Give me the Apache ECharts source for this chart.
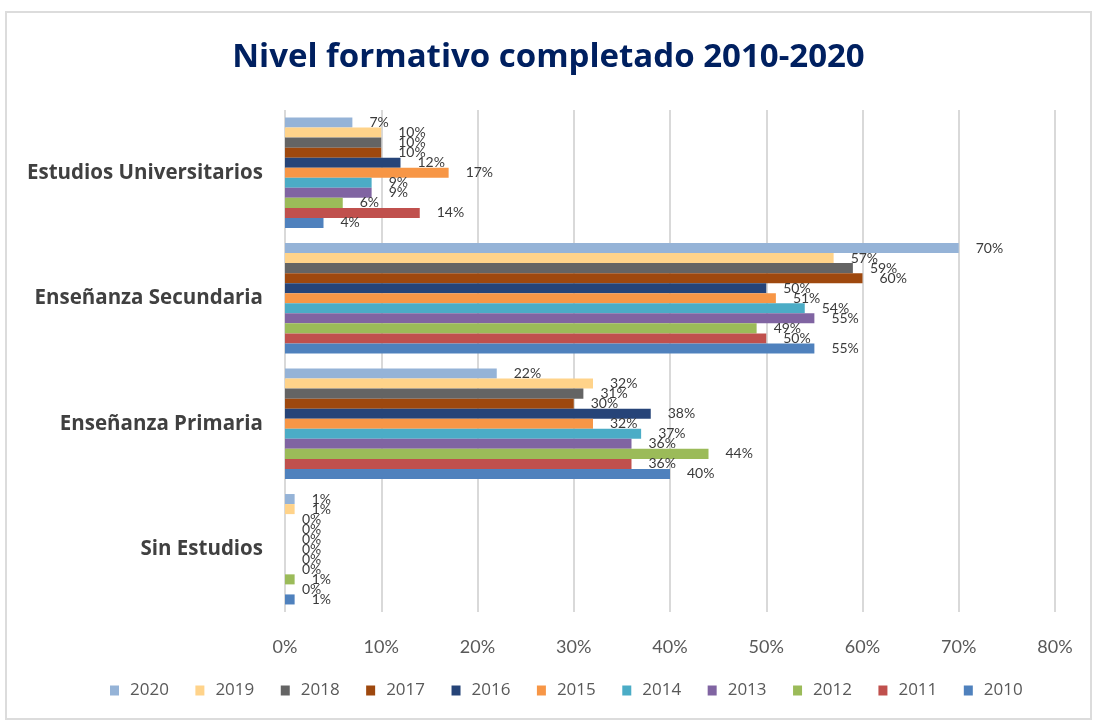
<!DOCTYPE html>
<html>
<head>
<meta charset="utf-8">
<script src="https://cdn.jsdelivr.net/npm/echarts@6/dist/echarts.min.js"></script>
<style>html,body{margin:0;padding:0;background:#fff}#c{width:1097px;height:725px}</style>
</head>
<body>
<div id="c"></div>
<script>
const categories = ['Estudios Universitarios', 'Enseñanza Secundaria', 'Enseñanza Primaria', 'Sin Estudios'];
const years = ['2020', '2019', '2018', '2017', '2016', '2015', '2014', '2013', '2012', '2011', '2010'];
// values per category, in the order of `years`
const universitarios = [7, 10, 10, 10, 12, 17, 9, 9, 6, 14, 4];
const secundaria = [70, 57, 59, 60, 50, 51, 54, 55, 49, 50, 55];
const primaria = [22, 32, 31, 30, 38, 32, 37, 36, 44, 36, 40];
const sinEstudios = [1, 1, 0, 0, 0, 0, 0, 0, 1, 0, 1];
const xTicks = [0, 10, 20, 30, 40, 50, 60, 70, 80];
const colors = ['#95B3D7', '#FFD38A', '#646464', '#9E480E', '#264478', '#F79646', '#4BACC6', '#8064A2', '#9BBB59', '#C0504D', '#4F81BD'];

const byCategory = [universitarios, secundaria, primaria, sinEstudios];
const LATO = 'Lato, sans-serif';
const OPEN = '"Open Sans", sans-serif';

const series = years.map((y, i) => ({
  name: y,
  type: 'bar',
  data: byCategory.map(arr => arr[i]),
  itemStyle: { color: colors[i] },
  barGap: '0%',
  barCategoryGap: '12%',
  label: {
    show: true,
    position: 'right',
    distance: 17,
    formatter: '{c}%',
    fontSize: 14,
    fontFamily: LATO,
    color: '#3A3A3A'
  }
}));

const chart = echarts.init(document.getElementById('c'), null, { renderer: 'canvas' });
chart.setOption({
  animation: false,
  backgroundColor: '#ffffff',
  title: {
    text: 'Nivel formativo completado 2010-2020',
    left: 'center',
    top: 36,
    textStyle: { fontFamily: OPEN, fontSize: 33, fontWeight: 'bold', color: '#002060' }
  },
  legend: {
    data: years,
    bottom: 21,
    left: 105,
    itemWidth: 9,
    itemHeight: 10,
    itemGap: 26.5,
    icon: 'rect',
    textStyle: { fontFamily: OPEN, fontSize: 17, color: '#595959', padding: [0, 0, 0, 6] }
  },
  grid: { left: 285, right: 42, top: 110, bottom: 113, containLabel: false },
  xAxis: {
    type: 'value',
    min: xTicks[0],
    max: xTicks[xTicks.length - 1],
    interval: 10,
    axisLine: { show: false },
    axisTick: { show: false },
    axisLabel: { formatter: '{value}%', fontFamily: LATO, fontSize: 18, color: '#595959', margin: 26 },
    splitLine: { show: true, lineStyle: { color: '#D9D9D9', width: 2 } }
  },
  yAxis: {
    type: 'category',
    data: categories,
    inverse: true,
    axisLine: { show: false },
    axisTick: { show: false },
    axisLabel: { fontFamily: OPEN, fontSize: 20.5, fontWeight: 'bold', color: '#404040', margin: 22 }
  },
  graphic: [{
    type: 'rect',
    shape: { x: 6, y: 12, width: 1085, height: 707 },
    style: { fill: 'none', stroke: '#DCDCDC', lineWidth: 2 },
    silent: true, z: -1
  }],
  series: series
});
</script>
</body>
</html>
